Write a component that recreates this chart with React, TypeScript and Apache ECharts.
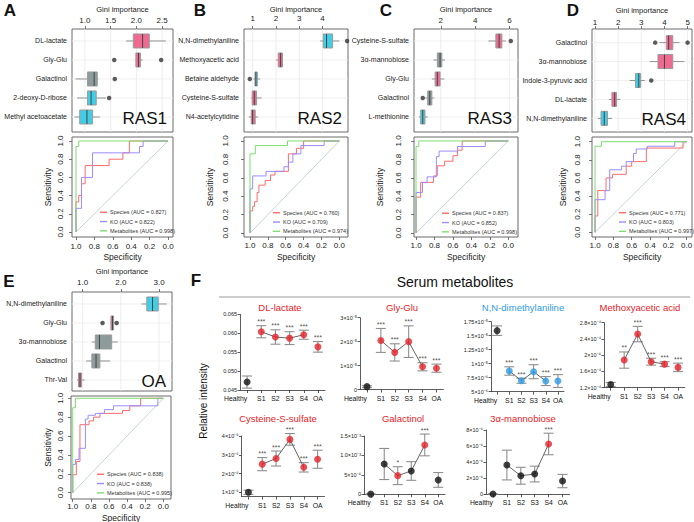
import React, { useEffect, useRef } from "react";
import * as echarts from "echarts";

const FONT = "'Liberation Sans', Arial, Helvetica, sans-serif";
const PINK = "#EF6A91";
const GREY = "#8D9B9B";
const CYAN = "#42CDE6";
const BOX_FILLS = [PINK, GREY, CYAN];
const RED = "#E5232A";
const BLUE = "#2F9BE4";
const ROC_COLORS = ["#FF6B6B", "#9A8CFF", "#7CDF6E"];

// ---------- Gini importance box plots: [min, q1, median, q3, max] ----------
const aNames = ["DL-lactate", "Gly-Glu", "Galactinol", "2-deoxy-D-ribose", "Methyl acetoacetate"];
const aStats = [[1.8, 1.94, 2.12, 2.25, 2.57], [1.98, 1.99, 2.04, 2.08, 2.12], [0.82, 1.05, 1.18, 1.24, 1.26], [0.85, 1.05, 1.12, 1.22, 1.41], [0.8, 0.9, 1.04, 1.15, 1.29]];
const aGroups = [0, 0, 1, 2, 2];
const aOutliers = [[1, 1.57], [1, 2.48], [2, 1.58], [3, 1.47]];
const aTicks = [1.0, 1.5, 2.0, 2.5];
const aTickLabels = ["1.0", "1.5", "2.0", "2.5"];

const bNames = ["N,N-dimethylaniline", "Methoxyacetic acid", "Betaine aldehyde", "Cysteine-S-sulfate", "N4-acetylcytidine"];
const bStats = [[3.9, 4.03, 4.17, 4.43, 4.72], [2.0, 2.1, 2.2, 2.28, 2.3], [1.03, 1.1, 1.14, 1.2, 1.32], [0.94, 0.98, 1.07, 1.17, 1.39], [0.83, 0.94, 1.0, 1.11, 1.24]];
const bGroups = [2, 0, 2, 0, 0];
const bOutliers = [[0, 5.05], [2, 0.88]];
const bTicks = [1, 2, 3, 4];
const bTickLabels = ["1", "2", "3", "4"];

const cNames = ["Cysteine-S-sulfate", "3α-mannobiose", "Gly-Glu", "Galactinol", "L-methionine"];
const cStats = [[4.78, 5.21, 5.4, 5.56, 5.8], [1.57, 1.8, 1.96, 2.06, 2.25], [1.48, 1.67, 1.8, 1.96, 2.21], [1.1, 1.24, 1.36, 1.48, 1.63], [0.73, 0.83, 0.95, 1.08, 1.24]];
const cGroups = [0, 1, 0, 1, 2];
const cOutliers = [[0, 6.08], [3, 0.95]];
const cTicks = [2, 4, 6];
const cTickLabels = ["2", "4", "6"];

const dNames = ["Galactinol", "3α-mannobiose", "Indole-3-pyruvic acid", "DL-lactate", "N,N-dimethylaniline"];
const dStats = [[3.79, 4.08, 4.18, 4.36, 4.65], [3.36, 3.72, 4.0, 4.36, 4.86], [2.5, 2.75, 2.89, 2.97, 3.15], [1.6, 1.73, 1.85, 1.93, 2.1], [1.12, 1.26, 1.4, 1.54, 1.74]];
const dGroups = [0, 0, 2, 0, 2];
const dOutliers = [[0, 3.6], [0, 5.0], [2, 3.43]];
const dTicks = [1, 2, 3, 4, 5];
const dTickLabels = ["1", "2", "3", "4", "5"];

const eNames = ["N,N-dimethylaniline", "Gly-Glu", "3α-mannobiose", "Galactinol", "Thr-Val"];
const eStats = [[2.54, 2.68, 2.83, 2.98, 3.2], [1.72, 1.74, 1.78, 1.81, 1.83], [1.24, 1.33, 1.44, 1.76, 1.92], [1.09, 1.24, 1.35, 1.45, 1.72], [0.85, 0.89, 0.93, 0.97, 1.05]];
const eGroups = [2, 0, 1, 1, 0];
const eOutliers = [[1, 1.52], [1, 1.89]];
const eTicks = [1, 2, 3];
const eTickLabels = ["1.0", "2.0", "3.0"];

// ---------- ROC curves: [specificity, sensitivity] ----------
const ROC_TICKS = [0, 0.2, 0.4, 0.6, 0.8, 1.0];
const DIAG = [[1, 0], [0, 1]];

const aSpecies = [[1, 0], [1, 0.33], [0.97, 0.33], [0.97, 0.4], [0.94, 0.4], [0.94, 0.53], [0.9, 0.53], [0.9, 0.73], [0.64, 0.73], [0.64, 0.8], [0.49, 0.8], [0.49, 0.87], [0.42, 0.87], [0.42, 1], [0, 1]];
const aKO = [[1, 0], [1, 0.26], [0.94, 0.26], [0.94, 0.6], [0.82, 0.6], [0.82, 0.87], [0.31, 0.87], [0.31, 0.94], [0.27, 0.94], [0.27, 1], [0, 1]];
const aMetab = [[1, 0], [1, 0.94], [0.97, 0.94], [0.97, 1], [0, 1]];
const aAUC = ["0.827", "0.822", "0.998"];

const bSpecies = [[1, 0], [1, 0.24], [0.97, 0.24], [0.97, 0.29], [0.95, 0.29], [0.95, 0.34], [0.92, 0.34], [0.92, 0.44], [0.9, 0.44], [0.9, 0.52], [0.83, 0.52], [0.83, 0.57], [0.77, 0.57], [0.77, 0.63], [0.72, 0.63], [0.72, 0.67], [0.57, 0.67], [0.57, 0.86], [0.48, 0.86], [0.48, 0.92], [0.4, 0.92], [0.4, 1], [0, 1]];
const bKO = [[1, 0], [1, 0.48], [0.97, 0.48], [0.97, 0.62], [0.82, 0.62], [0.82, 0.67], [0.62, 0.67], [0.62, 0.72], [0.57, 0.72], [0.57, 0.77], [0.52, 0.77], [0.52, 0.86], [0.43, 0.86], [0.43, 0.95], [0.17, 0.95], [0.17, 1], [0, 1]];
const bMetab = [[1, 0], [1, 0.86], [0.94, 0.86], [0.94, 0.95], [0.58, 0.95], [0.58, 1], [0, 1]];
const bAUC = ["0.760", "0.709", "0.974"];

const cSpecies = [[1, 0], [1, 0.39], [0.95, 0.39], [0.95, 0.55], [0.81, 0.55], [0.81, 0.62], [0.77, 0.62], [0.77, 0.73], [0.69, 0.73], [0.69, 0.78], [0.6, 0.78], [0.6, 0.84], [0.55, 0.84], [0.55, 0.9], [0.5, 0.9], [0.5, 1], [0, 1]];
const cKO = [[1, 0], [1, 0.44], [0.93, 0.44], [0.93, 0.55], [0.88, 0.55], [0.88, 0.61], [0.78, 0.61], [0.78, 0.83], [0.75, 0.83], [0.75, 0.89], [0.55, 0.89], [0.55, 0.94], [0.25, 0.94], [0.25, 1], [0, 1]];
const cMetab = [[1, 0], [1, 0.94], [0.97, 0.94], [0.97, 1], [0, 1]];
const cAUC = ["0.837", "0.852", "0.998"];

const dSpecies = [[1, 0], [1, 0.18], [0.97, 0.18], [0.97, 0.46], [0.88, 0.46], [0.88, 0.6], [0.81, 0.6], [0.81, 0.64], [0.66, 0.64], [0.66, 0.73], [0.6, 0.73], [0.6, 0.78], [0.44, 0.78], [0.44, 0.93], [0.04, 0.93], [0.04, 1], [0, 1]];
const dKO = [[1, 0], [1, 0.36], [0.89, 0.36], [0.89, 0.46], [0.84, 0.46], [0.84, 0.69], [0.71, 0.69], [0.71, 0.73], [0.66, 0.73], [0.66, 0.78], [0.58, 0.78], [0.58, 0.87], [0.55, 0.87], [0.55, 0.92], [0.43, 0.92], [0.43, 0.95], [0.13, 0.95], [0.13, 1], [0, 1]];
const dMetab = [[1, 0], [1, 0.95], [0.93, 0.95], [0.93, 1], [0, 1]];
const dAUC = ["0.771", "0.803", "0.997"];

const eSpecies = [[1, 0], [1, 0.19], [0.96, 0.19], [0.96, 0.33], [0.92, 0.33], [0.92, 0.72], [0.82, 0.72], [0.82, 0.76], [0.77, 0.76], [0.77, 0.8], [0.7, 0.8], [0.7, 0.84], [0.45, 0.84], [0.45, 0.87], [0.37, 0.87], [0.37, 0.92], [0.25, 0.92], [0.25, 1], [0, 1]];
const eKO = [[1, 0], [1, 0.3], [0.97, 0.3], [0.97, 0.35], [0.93, 0.35], [0.93, 0.47], [0.86, 0.47], [0.86, 0.78], [0.83, 0.78], [0.83, 0.82], [0.75, 0.82], [0.75, 0.84], [0.65, 0.84], [0.65, 0.88], [0.55, 0.88], [0.55, 0.92], [0.06, 0.92], [0.06, 1], [0, 1]];
const eMetab = [[1, 0], [1, 0.9], [0.97, 0.9], [0.97, 1], [0, 1]];
const eAUC = ["0.838", "0.838", "0.995"];

// ---------- Serum metabolites (mean, SEM) ----------
const CATS = ["Healthy", "S1", "S2", "S3", "S4", "OA"];

const dlMean = [0.0471, 0.0604, 0.059, 0.0587, 0.0596, 0.0564];
const dlSem = [0.0016, 0.0016, 0.0019, 0.0017, 0.0012, 0.0014];
const dlStars = ["", "***", "***", "***", "***", "***"];
const dlTicks = [0.045, 0.05, 0.055, 0.06, 0.065];
const dlTickLabels = ["0.045", "0.050", "0.055", "0.060", "0.065"];

const ggMean = [0.12e-5, 2.05e-5, 1.55e-5, 2.0e-5, 0.95e-5, 0.89e-5];
const ggSem = [0.04e-5, 0.5e-5, 0.36e-5, 0.66e-5, 0.17e-5, 0.17e-5];
const ggStars = ["", "***", "***", "***", "***", "***"];
const ggTicks = [0, 1e-5, 2e-5, 3e-5];
const ggTickLabels = ["0", "1×10⁻⁵", "2×10⁻⁵", "3×10⁻⁵"];

const nnMean = [15.9e-6, 8.7e-6, 6.96e-6, 8.57e-6, 6.9e-6, 6.9e-6];
const nnSem = [0.85e-6, 0.75e-6, 0.45e-6, 1.25e-6, 0.8e-6, 1.15e-6];
const nnStars = ["", "***", "***", "***", "***", "***"];
const nnTicks = [5e-6, 7.5e-6, 1e-5, 1.25e-5, 1.5e-5, 1.75e-5];
const nnTickLabels = ["5×10⁻⁶", "7.5×10⁻⁶", "1×10⁻⁵", "1.25×10⁻⁵", "1.5×10⁻⁵", "1.75×10⁻⁵"];

const maMean = [1.28e-4, 1.88e-4, 2.52e-4, 1.84e-4, 1.78e-4, 1.7e-4];
const maSem = [0.05e-4, 0.2e-4, 0.19e-4, 0.085e-4, 0.06e-4, 0.105e-4];
const maStars = ["", "**", "***", "***", "***", "***"];
const maTicks = [1.2e-4, 1.6e-4, 2e-4, 2.4e-4, 2.8e-4];
const maTickLabels = ["1.2×10⁻⁴", "1.6×10⁻⁴", "2×10⁻⁴", "2.4×10⁻⁴", "2.8×10⁻⁴"];

const csMean = [1.0e-6, 2.5e-6, 2.8e-6, 3.82e-6, 2.33e-6, 2.76e-6];
const csSem = [0.11e-6, 0.35e-6, 0.4e-6, 0.31e-6, 0.25e-6, 0.48e-6];
const csStars = ["", "***", "***", "***", "***", "***"];
const csTicks = [1e-6, 2e-6, 3e-6, 4e-6];
const csTickLabels = ["1×10⁻⁶", "2×10⁻⁶", "3×10⁻⁶", "4×10⁻⁶"];

const gaMean = [0.004e-3, 0.78e-3, 0.48e-3, 0.6e-3, 1.27e-3, 0.37e-3];
const gaSem = [0.01e-3, 0.4e-3, 0.23e-3, 0.24e-3, 0.28e-3, 0.19e-3];
const gaStars = ["", "", "*", "", "***", ""];
const gaTicks = [0, 5e-4, 1e-3, 1.5e-3];
const gaTickLabels = ["0", "5×10⁻⁴", "1.0×10⁻³", "1.5×10⁻³"];

const mbMean = [0.03e-4, 3.64e-4, 2.31e-4, 2.52e-4, 6.26e-4, 1.65e-4];
const mbSem = [0.02e-4, 1.85e-4, 1.05e-4, 0.98e-4, 1.34e-4, 0.83e-4];
const mbStars = ["", "", "", "", "***", ""];
const mbTicks = [0, 2e-4, 4e-4, 6e-4, 8e-4];
const mbTickLabels = ["0", "2×10⁻⁴", "4×10⁻⁴", "6×10⁻⁴", "8×10⁻⁴"];

function pickLabel(ticks: number[], labels: string[]) {
  return (v: number) => {
    let best = 0;
    for (let i = 0; i < ticks.length; i++) {
      if (Math.abs(ticks[i] - v) < Math.abs(ticks[best] - v)) best = i;
    }
    return labels[best];
  };
}

function buildOption() {
  const grids: any[] = [];
  const xAxes: any[] = [];
  const yAxes: any[] = [];
  const series: any[] = [];
  const legends: any[] = [];
  const graphics: any[] = [];

  const txt = (text: string, x: number, y: number, size: number, opts: any = {}) => {
    graphics.push({
      type: "text",
      x,
      y,
      rotation: opts.rotation || 0,
      z: 100,
      style: {
        text,
        fill: opts.color || "#111",
        font: `${opts.weight || "normal"} ${size}px ${FONT}`,
        align: opts.align || "center",
        verticalAlign: "middle",
        textAlign: opts.align || "center",
        textVerticalAlign: "middle",
      },
    });
  };

  const baseGrid = (l: number, t: number, r: number, b: number, show: boolean, border = "#5a5a5a") => ({
    left: l,
    top: t,
    width: r - l,
    height: b - t,
    show,
    borderColor: border,
    borderWidth: 1,
    backgroundColor: "transparent",
    containLabel: false,
    outerBoundsMode: "none",
  });

  // ---------- box panel ----------
  function boxPanel(p: any) {
    const gi = grids.length;
    const [l, t, r, b] = p.frame;
    grids.push(baseGrid(l, t, r, b, true, "#6a6a6a"));
    xAxes.push({
      gridIndex: gi,
      type: "value",
      position: "top",
      min: p.xmin,
      max: p.xmax,
      name: "Gini importance",
      nameLocation: "middle",
      nameGap: p.nameGap,
      nameTextStyle: { fontSize: 7.5, color: "#222", fontFamily: FONT },
      axisLine: { show: false, onZero: false },
      axisTick: { show: true, customValues: p.ticks, length: 3, lineStyle: { color: "#555", width: 0.8 } },
      axisLabel: { customValues: p.ticks, formatter: pickLabel(p.ticks, p.tickLabels), fontSize: 8, margin: p.labelMargin, color: "#222", fontFamily: FONT, hideOverlap: false },
      splitLine: { show: false },
    });
    const rows = p.names.map((_: string, i: number) => i);
    yAxes.push({
      gridIndex: gi,
      type: "value",
      inverse: true,
      min: p.ymin,
      max: p.ymax,
      axisLine: { show: false, onZero: false },
      axisTick: { show: false },
      axisLabel: { customValues: rows, formatter: (v: number) => p.names[Math.round(v)], fontSize: 7, margin: 5, color: "#222", fontFamily: FONT, hideOverlap: false },
      splitLine: { show: false },
    });
    series.push({
      type: "custom",
      xAxisIndex: gi,
      yAxisIndex: gi,
      silent: true,
      z: 1,
      data: p.ticks.map((v: number) => [v, 0]),
      encode: { x: 0, y: 1 },
      renderItem: (params: any, api: any) => {
        const cs = params.coordSys;
        const px = api.coord([api.value(0), 0])[0];
        return { type: "line", shape: { x1: px, y1: cs.y, x2: px, y2: cs.y + cs.height }, style: { stroke: "#e8e8e8", lineWidth: 0.8 } };
      },
    });
    series.push({
      type: "custom",
      xAxisIndex: gi,
      yAxisIndex: gi,
      silent: true,
      z: 1,
      data: rows.map((i: number) => [p.xmin, i]),
      encode: { x: 0, y: 1 },
      renderItem: (params: any, api: any) => {
        const cs = params.coordSys;
        const py = api.coord([p.xmin, api.value(1)])[1];
        return { type: "line", shape: { x1: cs.x, y1: py, x2: cs.x + cs.width, y2: py }, style: { stroke: "#ececec", lineWidth: 0.8 } };
      },
    });
    series.push({
      type: "custom",
      xAxisIndex: gi,
      yAxisIndex: gi,
      z: 2,
      clip: false,
      data: p.stats.map((s: number[], i: number) => [i, ...s, p.groups[i]]),
      encode: { x: [1, 2, 3, 4, 5], y: 0 },
      renderItem: (params: any, api: any) => {
        const row = api.value(0);
        const lo = api.coord([api.value(1), row]);
        const q1 = api.coord([api.value(2), row]);
        const md = api.coord([api.value(3), row]);
        const q3 = api.coord([api.value(4), row]);
        const hi = api.coord([api.value(5), row]);
        const fill = BOX_FILLS[api.value(6)];
        const h = 14;
        return {
          type: "group",
          children: [
            { type: "line", shape: { x1: lo[0], y1: lo[1], x2: hi[0], y2: hi[1] }, style: { stroke: "#939393", lineWidth: 1 } },
            { type: "rect", shape: { x: q1[0], y: q1[1] - h / 2, width: Math.max(1, q3[0] - q1[0]), height: h }, style: { fill, stroke: "#9a9a9a", lineWidth: 1 } },
            { type: "line", shape: { x1: md[0], y1: md[1] - h / 2, x2: md[0], y2: md[1] + h / 2 }, style: { stroke: "#444", lineWidth: 1 } },
          ],
        };
      },
    });
    series.push({
      type: "scatter",
      xAxisIndex: gi,
      yAxisIndex: gi,
      z: 3,
      clip: false,
      symbolSize: 4.5,
      itemStyle: { color: "#333" },
      data: p.outliers.map((o: number[]) => [o[1], o[0]]),
    });
    txt(p.tag, r - 6, p.tagY, 17, { align: "right" });
  }

  // ---------- ROC panel ----------
  function rocPanel(p: any) {
    const gi = grids.length;
    const [l, t, r, b] = p.frame;
    grids.push(baseGrid(l, t, r, b, true, "#6a6a6a"));
    const common = {
      axisLine: { show: false, onZero: false },
      axisTick: { show: true, customValues: ROC_TICKS, length: 3, lineStyle: { color: "#555", width: 0.8 } },
      splitLine: { show: false },
      nameLocation: "middle",
      nameTextStyle: { fontSize: 8.5, color: "#222", fontFamily: FONT },
    };
    xAxes.push({
      ...common,
      gridIndex: gi,
      type: "value",
      position: "bottom",
      inverse: true,
      min: p.xmin,
      max: p.xmax,
      name: "Specificity",
      nameGap: p.xNameGap,
      axisLabel: { customValues: ROC_TICKS, formatter: (v: number) => v.toFixed(1), fontSize: 8, margin: p.xLabelMargin, color: "#222", fontFamily: FONT, hideOverlap: false },
    });
    yAxes.push({
      ...common,
      gridIndex: gi,
      type: "value",
      position: "left",
      min: p.ymin,
      max: p.ymax,
      name: "Sensitivity",
      nameGap: p.yNameGap,
      axisLabel: { customValues: ROC_TICKS, formatter: (v: number) => v.toFixed(1), rotate: 90, fontSize: 8, margin: p.yLabelMargin, color: "#222", fontFamily: FONT, hideOverlap: false },
    });
    series.push({
      type: "line",
      xAxisIndex: gi,
      yAxisIndex: gi,
      data: DIAG,
      symbol: "none",
      silent: true,
      lineStyle: { color: "#B8CCC8", width: 0.8 },
      z: 1,
    });
    const names = [`Species (AUC = ${p.auc[0]})`, `KO (AUC = ${p.auc[1]})`, `Metabolites (AUC = ${p.auc[2]})`];
    [p.species, p.ko, p.metab].forEach((d: number[][], k: number) => {
      series.push({
        type: "line",
        name: names[k],
        xAxisIndex: gi,
        yAxisIndex: gi,
        data: d,
        symbol: "none",
        lineStyle: { color: ROC_COLORS[k], width: 1 },
        itemStyle: { color: ROC_COLORS[k] },
        z: 2 + k,
      });
    });
    legends.push({
      left: p.legendLeft,
      top: p.legendTop,
      orient: "vertical",
      data: names,
      icon: "rect",
      itemWidth: 7,
      itemHeight: 1.4,
      itemGap: 0.8,
      padding: 0,
      selectedMode: false,
      textStyle: { fontSize: 5.5, color: "#333", fontFamily: FONT, lineHeight: 8.5, padding: [0, 0, 0, -2] },
    });
  }

  // ---------- serum metabolite panel ----------
  function fPanel(p: any) {
    const gi = grids.length;
    grids.push({ left: p.left, top: p.top, width: p.width, height: p.height, show: false, containLabel: false, outerBoundsMode: "none" });
    xAxes.push({
      gridIndex: gi,
      type: "category",
      data: CATS.map((c, i) => (i === 0 ? { value: c, textStyle: { align: "right" } } : c)),
      boundaryGap: true,
      axisLine: { show: true, onZero: false, lineStyle: { color: "#333", width: 0.8 } },
      axisTick: { show: true, alignWithLabel: true, length: 3, lineStyle: { color: "#333", width: 0.8 } },
      axisLabel: { interval: 0, fontSize: 6.8, margin: 5, color: "#111", fontFamily: FONT, hideOverlap: false },
      splitLine: { show: false },
    });
    yAxes.push({
      gridIndex: gi,
      type: "value",
      min: p.ymin,
      max: p.ymax,
      axisLine: { show: true, onZero: false, lineStyle: { color: "#333", width: 0.8 } },
      axisTick: { show: true, customValues: p.ticks, length: 2.5, lineStyle: { color: "#333", width: 0.8 } },
      axisLabel: { customValues: p.ticks, formatter: pickLabel(p.ticks, p.tickLabels), fontSize: 5.5, margin: 3, color: "#222", fontFamily: FONT, hideOverlap: false },
      splitLine: { show: false },
    });
    const mean: number[] = p.mean;
    const sem: number[] = p.sem;
    const stars: string[] = p.stars;
    series.push({
      type: "custom",
      xAxisIndex: gi,
      yAxisIndex: gi,
      z: 2,
      clip: false,
      silent: true,
      data: mean.map((m, i) => [i, m - sem[i], m + sem[i]]),
      encode: { x: 0, y: [1, 2] },
      renderItem: (params: any, api: any) => {
        const i = api.value(0);
        const a = api.coord([i, api.value(1)]);
        const c = api.coord([i, api.value(2)]);
        const w = 5;
        const st = { stroke: "#8f8f8f", lineWidth: 1.1 };
        return {
          type: "group",
          children: [
            { type: "line", shape: { x1: a[0], y1: a[1], x2: c[0], y2: c[1] }, style: st },
            { type: "line", shape: { x1: a[0] - w, y1: a[1], x2: a[0] + w, y2: a[1] }, style: st },
            { type: "line", shape: { x1: c[0] - w, y1: c[1], x2: c[0] + w, y2: c[1] }, style: st },
          ],
        };
      },
    });
    series.push({
      type: "line",
      xAxisIndex: gi,
      yAxisIndex: gi,
      z: 3,
      symbol: "none",
      silent: true,
      lineStyle: { color: "#555", width: 0.9 },
      data: [1, 2, 3, 4].map((i) => [i, mean[i]]),
    });
    series.push({
      type: "scatter",
      xAxisIndex: gi,
      yAxisIndex: gi,
      z: 4,
      clip: false,
      symbolSize: 7,
      data: mean.map((m, i) => ({ value: [i, m], itemStyle: { color: i === 0 || !stars[i] ? "#111" : p.accent } })),
    });
    series.push({
      type: "scatter",
      xAxisIndex: gi,
      yAxisIndex: gi,
      z: 5,
      clip: false,
      silent: true,
      symbolSize: 1,
      itemStyle: { color: "rgba(0,0,0,0)" },
      label: { show: true, position: "top", distance: 0, formatter: (q: any) => stars[q.dataIndex], fontSize: 7, color: "#222", fontFamily: FONT },
      labelLayout: { hideOverlap: false },
      data: mean.map((m, i) => [i, m + sem[i]]),
    });
    txt(p.title, p.titleX, p.titleY, 9.5, { color: p.titleColor || RED });
  }

  boxPanel({ frame: [72, 29, 173, 132], xmin: 0.75, xmax: 2.71, ymin: -0.63, ymax: 4.79, ticks: aTicks, tickLabels: aTickLabels, names: aNames, stats: aStats, groups: aGroups, outliers: aOutliers, tag: "RAS1", tagY: 118, nameGap: 16, labelMargin: 5 });
  boxPanel({ frame: [244, 29, 348, 132], xmin: 0.63, xmax: 5.09, ymin: -0.63, ymax: 4.79, ticks: bTicks, tickLabels: bTickLabels, names: bNames, stats: bStats, groups: bGroups, outliers: bOutliers, tag: "RAS2", tagY: 118, nameGap: 16, labelMargin: 7 });
  boxPanel({ frame: [414, 29, 518, 132], xmin: 0.44, xmax: 6.5, ymin: -0.63, ymax: 4.79, ticks: cTicks, tickLabels: cTickLabels, names: cNames, stats: cStats, groups: cGroups, outliers: cOutliers, tag: "RAS3", tagY: 118, nameGap: 15.5, labelMargin: 5 });
  boxPanel({ frame: [592, 29, 692, 132], xmin: 0.87, xmax: 5.19, ymin: -0.72, ymax: 4.72, ticks: dTicks, tickLabels: dTickLabels, names: dNames, stats: dStats, groups: dGroups, outliers: dOutliers, tag: "RAS4", tagY: 119, nameGap: 15, labelMargin: 3 });
  boxPanel({ frame: [72, 292, 172, 391], xmin: 0.72, xmax: 3.34, ymin: -0.63, ymax: 4.58, ticks: eTicks, tickLabels: eTickLabels, names: eNames, stats: eStats, groups: eGroups, outliers: eOutliers, tag: "OA", tagY: 381, nameGap: 17, labelMargin: 6 });

  rocPanel({ frame: [72, 137, 173, 237], xmin: -0.054, xmax: 1.043, ymin: -0.055, ymax: 1.044, species: aSpecies, ko: aKO, metab: aMetab, auc: aAUC, legendLeft: 100, legendTop: 208, xNameGap: 15, xLabelMargin: 5, yNameGap: 20, yLabelMargin: 8 });
  rocPanel({ frame: [244, 137, 348, 237], xmin: -0.097, xmax: 1.067, ymin: -0.043, ymax: 1.043, species: bSpecies, ko: bKO, metab: bMetab, auc: bAUC, legendLeft: 273, legendTop: 208.5, xNameGap: 15, xLabelMargin: 4.5, yNameGap: 30, yLabelMargin: 15 });
  rocPanel({ frame: [414, 137, 518, 237], xmin: -0.105, xmax: 1.022, ymin: -0.043, ymax: 1.043, species: cSpecies, ko: cKO, metab: cMetab, auc: cAUC, legendLeft: 442, legendTop: 209, xNameGap: 15, xLabelMargin: 4.5, yNameGap: 30, yLabelMargin: 12 });
  rocPanel({ frame: [592, 137, 692, 237], xmin: -0.058, xmax: 1.033, ymin: -0.052, ymax: 1.052, species: dSpecies, ko: dKO, metab: dMetab, auc: dAUC, legendLeft: 619, legendTop: 208.5, xNameGap: 15, xLabelMargin: 4.5, yNameGap: 25, yLabelMargin: 11 });
  rocPanel({ frame: [71, 396, 171, 499], xmin: -0.085, xmax: 1.019, ymin: -0.067, ymax: 1.024, species: eSpecies, ko: eKO, metab: eMetab, auc: eAUC, legendLeft: 97, legendTop: 470, xNameGap: 14, xLabelMargin: 3.5, yNameGap: 19, yLabelMargin: 6.5 });

  fPanel({ left: 240, top: 314.3, width: 85, height: 75.7, ymin: 0.045, ymax: 0.065, ticks: dlTicks, tickLabels: dlTickLabels, mean: dlMean, sem: dlSem, stars: dlStars, accent: RED, title: "DL-lactate", titleX: 280, titleY: 307 });
  fPanel({ left: 360, top: 317.7, width: 83.4, height: 71.8, ymin: 0, ymax: 3e-5, ticks: ggTicks, tickLabels: ggTickLabels, mean: ggMean, sem: ggSem, stars: ggStars, accent: RED, title: "Gly-Glu", titleX: 402, titleY: 307 });
  fPanel({ left: 491, top: 321.7, width: 73, height: 70, ymin: 5e-6, ymax: 1.75e-5, ticks: nnTicks, tickLabels: nnTickLabels, mean: nnMean, sem: nnSem, stars: nnStars, accent: BLUE, title: "N,N-dimethylaniline", titleX: 523, titleY: 307, titleColor: BLUE });
  fPanel({ left: 604, top: 322.7, width: 80.8, height: 65, ymin: 1.2e-4, ymax: 2.8e-4, ticks: maTicks, tickLabels: maTickLabels, mean: maMean, sem: maSem, stars: maStars, accent: RED, title: "Methoxyacetic acid", titleX: 640, titleY: 307 });
  fPanel({ left: 241.5, top: 436, width: 83, height: 60.6, ymin: 0.77e-6, ymax: 4e-6, ticks: csTicks, tickLabels: csTickLabels, mean: csMean, sem: csSem, stars: csStars, accent: RED, title: "Cysteine-S-sulfate", titleX: 278, titleY: 418 });
  fPanel({ left: 364, top: 436, width: 81, height: 58.3, ymin: 0, ymax: 1.5e-3, ticks: gaTicks, tickLabels: gaTickLabels, mean: gaMean, sem: gaSem, stars: gaStars, accent: RED, title: "Galactinol", titleX: 403, titleY: 418 });
  fPanel({ left: 486, top: 430, width: 83.5, height: 64.3, ymin: 0, ymax: 8e-4, ticks: mbTicks, tickLabels: mbTickLabels, mean: mbMean, sem: mbSem, stars: mbStars, accent: RED, title: "3α-mannobiose", titleX: 523, titleY: 418 });

  txt("A", 10, 10.5, 17, { weight: "bold" });
  txt("B", 200, 10.5, 17, { weight: "bold" });
  txt("C", 386, 10.5, 17, { weight: "bold" });
  txt("D", 573, 10.5, 17, { weight: "bold" });
  txt("E", 9, 281, 17, { weight: "bold" });
  txt("F", 196, 280, 17, { weight: "bold" });
  txt("Serum metabolites", 455, 282, 14);
  graphics.push({ type: "line", shape: { x1: 219, y1: 297, x2: 690, y2: 297 }, style: { stroke: "#9a9a9a", lineWidth: 1 } });
  txt("Relative intensity", 203, 401, 10, { rotation: Math.PI / 2 });

  return {
    animation: false,
    backgroundColor: "#ffffff",
    textStyle: { fontFamily: FONT },
    grid: grids,
    xAxis: xAxes,
    yAxis: yAxes,
    legend: legends,
    series,
    graphic: { elements: graphics },
  };
}

export default function App() {
  const ref = useRef<HTMLDivElement>(null);
  useEffect(() => {
    if (!ref.current) return;
    const chart = echarts.init(ref.current, undefined, { renderer: "svg" });
    chart.setOption(buildOption() as any);
    return () => chart.dispose();
  }, []);
  return <div ref={ref} style={{ position: "fixed", left: 0, top: 0, width: 694, height: 522, background: "#fff" }} />;
}
